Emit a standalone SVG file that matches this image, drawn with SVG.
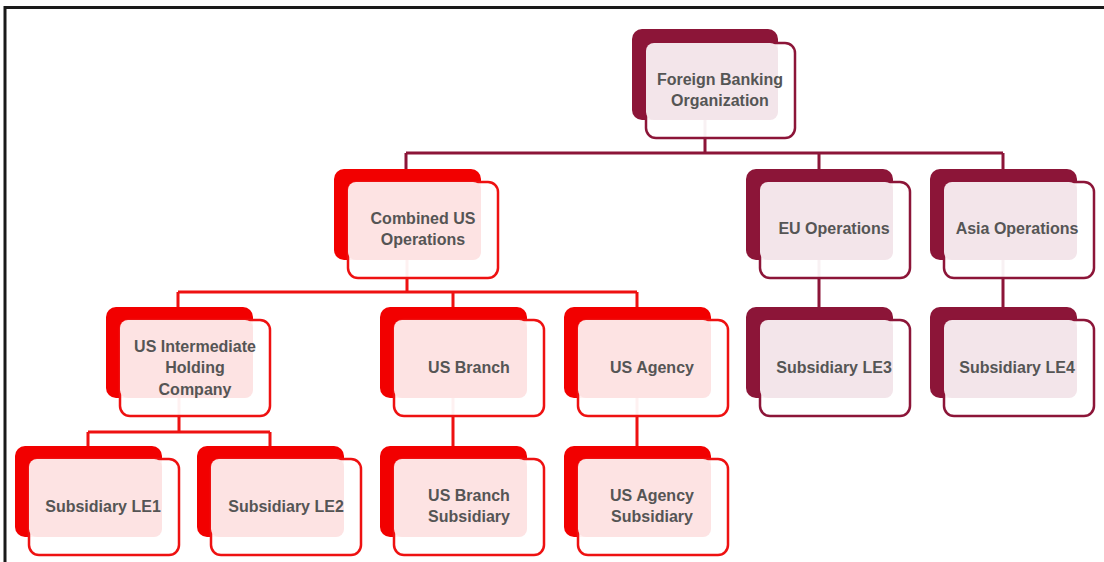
<svg xmlns="http://www.w3.org/2000/svg" width="1104" height="562" viewBox="0 0 1104 562">
<style>
.bm{fill:#8c1538}
.br{fill:#f20000}
.f{fill:#ffffff;fill-opacity:0.94;stroke-width:2.5}
.fm{stroke:#8c1538}
.fr{stroke:#ee1111}
.pm{fill:#f3e5ea}
.pr{fill:#fde3e3}
.cm{stroke:#8c1538;stroke-width:3;fill:none}
.cr{stroke:#ee1111;stroke-width:3;fill:none}
text{font-family:"Liberation Sans",Arial,sans-serif;font-weight:bold;font-size:16px;fill:#555555;text-anchor:middle}
</style>
<rect x="0" y="0" width="1104" height="562" fill="#ffffff"/>
<path d="M5 562 V7.5 H1104" stroke="#1a1a1a" stroke-width="3" fill="none"/>
<g id="connectors">
<path class="cm" d="M705 120 V153 M406 153 H1003 M406 153 V169 M819 153 V169 M1003 153 V169 M819 260 V307 M1003 260 V307"/>
<path class="cr" d="M407 260 V292 M178 292 H637 M178 292 V307 M453 292 V307 M637 292 V307 M179 398 V432 M88 432 H270 M88 432 V446 M270 432 V446 M453 398 V446 M637 398 V446"/>
</g>
<g id="n-fbo">
<rect class="bm" x="632" y="29" width="146" height="91" rx="10"/>
<rect class="f fm" x="646" y="43" width="149" height="95" rx="10"/>
<rect class="pm" x="646" y="43" width="132" height="77" rx="8"/>
<text x="720" y="85">Foreign Banking</text>
<text x="720" y="106">Organization</text>
</g>
<g id="n-cus">
<rect class="br" x="334" y="169" width="147" height="91" rx="10"/>
<rect class="f fr" x="348" y="182" width="150" height="96" rx="10"/>
<rect class="pr" x="348" y="182" width="133" height="78" rx="8"/>
<text x="423" y="224">Combined US</text>
<text x="423" y="245">Operations</text>
</g>
<g id="n-eu">
<rect class="bm" x="746" y="169" width="147" height="91" rx="10"/>
<rect class="f fm" x="760" y="182" width="150" height="96" rx="10"/>
<rect class="pm" x="760" y="182" width="133" height="78" rx="8"/>
<text x="834" y="234">EU Operations</text>
</g>
<g id="n-asia">
<rect class="bm" x="930" y="169" width="147" height="91" rx="10"/>
<rect class="f fm" x="944" y="182" width="150" height="96" rx="10"/>
<rect class="pm" x="944" y="182" width="133" height="78" rx="8"/>
<text x="1017" y="234">Asia Operations</text>
</g>
<g id="n-ihc">
<rect class="br" x="106" y="307" width="147" height="91" rx="10"/>
<rect class="f fr" x="120" y="320" width="150" height="96" rx="10"/>
<rect class="pr" x="120" y="320" width="133" height="78" rx="8"/>
<text x="195" y="352">US Intermediate</text>
<text x="195" y="373">Holding</text>
<text x="195" y="395">Company</text>
</g>
<g id="n-branch">
<rect class="br" x="380" y="307" width="147" height="91" rx="10"/>
<rect class="f fr" x="394" y="320" width="150" height="96" rx="10"/>
<rect class="pr" x="394" y="320" width="133" height="78" rx="8"/>
<text x="469" y="373">US Branch</text>
</g>
<g id="n-agency">
<rect class="br" x="564" y="307" width="147" height="91" rx="10"/>
<rect class="f fr" x="578" y="320" width="150" height="96" rx="10"/>
<rect class="pr" x="578" y="320" width="133" height="78" rx="8"/>
<text x="652" y="373">US Agency</text>
</g>
<g id="n-le3">
<rect class="bm" x="746" y="307" width="147" height="91" rx="10"/>
<rect class="f fm" x="760" y="320" width="150" height="96" rx="10"/>
<rect class="pm" x="760" y="320" width="133" height="78" rx="8"/>
<text x="834" y="373">Subsidiary LE3</text>
</g>
<g id="n-le4">
<rect class="bm" x="930" y="307" width="147" height="91" rx="10"/>
<rect class="f fm" x="944" y="320" width="150" height="96" rx="10"/>
<rect class="pm" x="944" y="320" width="133" height="78" rx="8"/>
<text x="1017" y="373">Subsidiary LE4</text>
</g>
<g id="n-le1">
<rect class="br" x="15" y="446" width="147" height="91" rx="10"/>
<rect class="f fr" x="29" y="459" width="150" height="96" rx="10"/>
<rect class="pr" x="29" y="459" width="133" height="78" rx="8"/>
<text x="103" y="512">Subsidiary LE1</text>
</g>
<g id="n-le2">
<rect class="br" x="197" y="446" width="147" height="91" rx="10"/>
<rect class="f fr" x="211" y="459" width="150" height="96" rx="10"/>
<rect class="pr" x="211" y="459" width="133" height="78" rx="8"/>
<text x="286" y="512">Subsidiary LE2</text>
</g>
<g id="n-bsub">
<rect class="br" x="380" y="446" width="147" height="91" rx="10"/>
<rect class="f fr" x="394" y="459" width="150" height="96" rx="10"/>
<rect class="pr" x="394" y="459" width="133" height="78" rx="8"/>
<text x="469" y="501">US Branch</text>
<text x="469" y="522">Subsidiary</text>
</g>
<g id="n-asub">
<rect class="br" x="564" y="446" width="147" height="91" rx="10"/>
<rect class="f fr" x="578" y="459" width="150" height="96" rx="10"/>
<rect class="pr" x="578" y="459" width="133" height="78" rx="8"/>
<text x="652" y="501">US Agency</text>
<text x="652" y="522">Subsidiary</text>
</g>
</svg>
